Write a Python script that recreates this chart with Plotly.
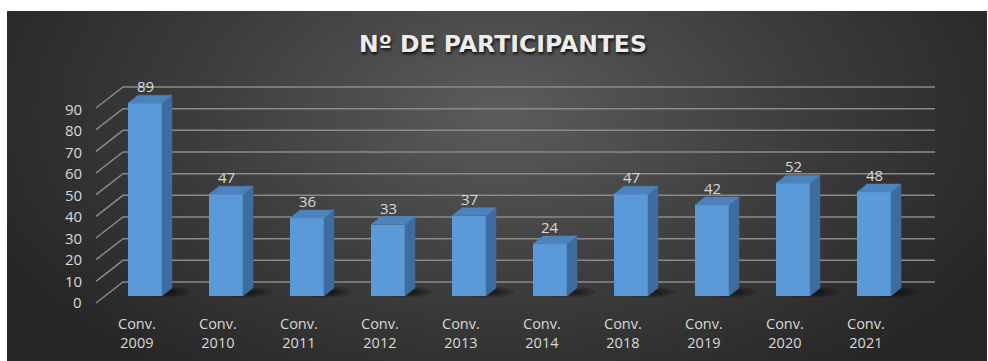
import numpy as np
import plotly.graph_objects as go

# Data
categories = ["Conv.<br>2009", "Conv.<br>2010", "Conv.<br>2011", "Conv.<br>2012", "Conv.<br>2013",
              "Conv.<br>2014", "Conv.<br>2018", "Conv.<br>2019", "Conv.<br>2020", "Conv.<br>2021"]
participants = [89, 47, 36, 33, 37, 24, 47, 42, 52, 48]
tick_values = [0, 10, 20, 30, 40, 50, 60, 70, 80, 90]

W, H = 988, 361
L, R, T, B = 7, 1, 11, 0

# axis geometry: one category per 81 px, 2.1667 px per participant
PITCH = 81.0
YPX = 2.1667
X0_PX = 145.0   # centre of first bar (px)
Y0_PX = 296.0   # baseline of bar fronts (px)

x_lo = (L - X0_PX) / PITCH
x_hi = (W - R - X0_PX) / PITCH
y_hi = (Y0_PX - T) / YPX
y_lo = (Y0_PX - H) / YPX

def px_to_x(px):
    return (px - X0_PX) / PITCH

def dpx_to_y(dpx):
    return dpx / YPX

FONT = "'Open Sans', 'DejaVu Sans', sans-serif"
TITLE_FONT = "'DejaVu Sans', 'Open Sans', sans-serif"
TXT = "#d9d9d9"

fig = go.Figure()

# radial background
gx = np.linspace(x_lo, x_hi, 120)
gy = np.linspace(y_lo, y_hi, 60)
GX, GY = np.meshgrid(gx, gy)
PX = X0_PX + GX * PITCH
PY = Y0_PX - GY * YPX
d = np.sqrt(((PX - 500) / 560) ** 2 + ((PY - 110) / 330) ** 2)
fig.add_trace(go.Heatmap(x=gx, y=gy, z=np.clip(d, 0, 1), zmin=0, zmax=1, zsmooth="best",
                         colorscale=[[0, "#5c5c5c"], [0.55, "#3c3c3c"], [1, "#262626"]],
                         showscale=False, hoverinfo="skip"))

# back wall gridlines with perspective legs to the value labels
back_dy = dpx_to_y(Y0_PX - 282)
front_dy = dpx_to_y(Y0_PX - 303)
xb0, xb1, xf = px_to_x(123), px_to_x(935), px_to_x(96)
gxs, gys = [], []
for v in tick_values:
    gxs += [xf, xb0, xb1, None]
    gys += [v + front_dy, v + back_dy, v + back_dy, None]
fig.add_trace(go.Scatter(x=gxs, y=gys, mode="lines", line=dict(color="#8a8a8a", width=1.5),
                         hoverinfo="skip", showlegend=False))

n = len(participants)
half = 17 / PITCH
ddx = 10 / PITCH
ddy = dpx_to_y(8)

# floor shadows behind each bar
for i in range(n):
    for k, op in zip([1.0, 0.75, 0.5], [0.15, 0.2, 0.25]):
        t = np.linspace(0, 2 * np.pi, 30)
        cx, cy = i + 0.22, 1.8
        sx = (0.34 * k) * np.cos(t) + cx
        sy = (2.6 * k) * np.sin(t) + cy
        fig.add_trace(go.Scatter(x=sx, y=sy, fill="toself", mode="none", fillcolor=f"rgba(0,0,0,{op})",
                                 hoverinfo="skip", showlegend=False))

# bar fronts on an overlaying axis pair so they sit above the gridlines
fig.add_trace(go.Bar(x=list(range(n)), y=participants, width=2 * half,
                     marker=dict(color="#5a9ad8", line=dict(width=0)),
                     xaxis="x2", yaxis="y2", showlegend=False, hoverinfo="skip"))

# side and top faces
for i, v in enumerate(participants):
    fig.add_trace(go.Scatter(
        x=[i + half, i + half + ddx, i + half + ddx, i + half, i + half],
        y=[0, ddy, v + ddy, v, 0], fill="toself", mode="lines",
        line=dict(color="#3d6d9f", width=0.5), fillcolor="#3d6d9f",
        xaxis="x2", yaxis="y2", hoverinfo="skip", showlegend=False))
    fig.add_trace(go.Scatter(
        x=[i - half, i + half, i + half + ddx, i - half + ddx, i - half],
        y=[v, v, v + ddy, v + ddy, v], fill="toself", mode="lines",
        line=dict(color="#4d82bd", width=0.5), fillcolor="#4d82bd",
        xaxis="x2", yaxis="y2", hoverinfo="skip", showlegend=False))

annotations = []
# value labels
for i, v in enumerate(participants):
    annotations.append(dict(x=i, y=v + dpx_to_y(17), text=str(v), showarrow=False,
                            font=dict(family=FONT, size=15, color=TXT), xanchor="center", yanchor="middle"))
# axis labels
for v in tick_values:
    py = 302 - 2.144 * v
    annotations.append(dict(x=px_to_x(84), y=(Y0_PX - py) / YPX, text=str(v), showarrow=False,
                            font=dict(family=FONT, size=15, color=TXT), xanchor="right", yanchor="middle"))
# category labels
for i, c in enumerate(categories):
    annotations.append(dict(x=i - 8 / PITCH, y=(Y0_PX - 333) / YPX, text=c, showarrow=False,
                            font=dict(family=FONT, size=14.5, color=TXT), xanchor="center", yanchor="middle"))
# title
annotations.append(dict(x=px_to_x(503), y=(Y0_PX - 44) / YPX, text="<b>Nº DE PARTICIPANTES</b>",
                        showarrow=False,
                        font=dict(family=TITLE_FONT, size=23.5, color="#ececec",
                                  shadow="1px 2px 3px rgba(0,0,0,0.85)"),
                        xanchor="center", yanchor="middle"))

fig.update_layout(
    width=W, height=H, margin=dict(l=L, r=R, t=T, b=B),
    paper_bgcolor="white", plot_bgcolor="#333333",
    xaxis=dict(range=[x_lo, x_hi], visible=False, fixedrange=True),
    yaxis=dict(range=[y_lo, y_hi], visible=False, fixedrange=True),
    xaxis2=dict(range=[x_lo, x_hi], visible=False, fixedrange=True, overlaying="x", anchor="y2"),
    yaxis2=dict(range=[y_lo, y_hi], visible=False, fixedrange=True, overlaying="y", anchor="x2"),
    annotations=annotations, showlegend=False, bargap=0,
)

fig.write_html("out.html", config={"displayModeBar": False})
